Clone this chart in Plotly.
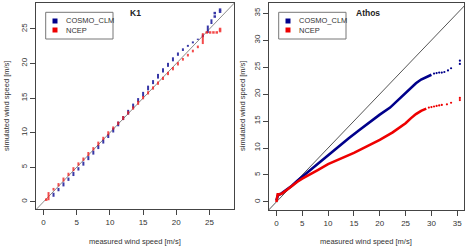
import plotly.graph_objects as go

W, H = 473, 246

# ---------------- K1 (left panel): QQ stacks at discrete measured speeds ----------------
k1_levels = [0.75, 1.5, 2.25, 3.0, 3.75, 4.5, 5.25, 6.0, 6.75, 7.5, 8.25, 9.0, 9.75, 10.5,
             11.25, 12.0, 12.75, 13.5, 14.25, 15.0, 15.75, 16.5, 17.25, 18.0, 18.75, 19.5,
             20.25, 21.0, 21.75, 22.5, 23.25, 24.0]
k1_ncep_top = [1.4, 2.0, 2.7, 3.5, 4.2, 5.0, 5.7, 6.4, 7.2, 7.9, 8.7, 9.4, 10.2, 10.9,
               11.6, 12.4, 13.1, 13.8, 14.6, 15.3, 16.0, 16.7, 17.4, 18.1, 18.8, 19.5,
               20.2, 20.8, 21.4, 22.0, 22.6, 24.4]
k1_ncep_start = 0.0
k1_ncep_tail_x = [0.4, 24.6, 25.1, 25.6, 26.1, 26.6, 26.6]
k1_ncep_tail_y = [0.3, 24.5, 24.5, 24.5, 24.5, 24.7, 25.0]

k1_cosmo_levels = [1.5, 2.25, 3.0, 3.75, 4.5, 5.25, 6.0, 6.75, 7.5, 8.25, 9.0, 9.75, 10.5,
                   11.25, 12.0, 12.75, 13.5, 14.25, 15.0, 15.75, 16.5, 17.25, 18.0, 18.75,
                   19.5, 20.25, 21.0, 21.75, 22.5, 23.25, 24.0, 24.75, 25.3]
k1_cosmo_top = [1.3, 2.0, 2.8, 3.5, 4.3, 5.0, 5.8, 6.6, 7.4, 8.2, 9.0, 9.8, 10.7,
                11.6, 12.4, 13.3, 14.2, 15.0, 15.9, 16.8, 17.6, 18.5, 19.3, 20.1,
                20.9, 21.6, 22.2, 22.7, 23.2, 23.6, 24.2, 25.5, 26.4]
k1_cosmo_start = 0.5
k1_cosmo_tail_x = [25.8, 25.8, 26.6, 26.6]
k1_cosmo_tail_y = [26.8, 27.3, 27.5, 27.8]

# ---------------- Athos (right panel): dense QQ curves ----------------
ath_ncep_x = [0.0, 0.1, 0.25, 0.5, 1.0, 2.0, 3.0, 4.0, 5.0, 6.0, 8.0, 10.0, 12.5, 15.0,
              17.5, 20.0, 22.5, 25.0, 26.0, 27.0, 28.0, 29.0]
ath_ncep_y = [0.0, 0.5, 1.4, 1.4, 1.5, 2.2, 3.0, 3.7, 4.3, 4.8, 5.9, 7.0, 8.0, 9.1,
              10.3, 11.5, 12.9, 14.6, 15.5, 16.3, 16.9, 17.3]
ath_ncep_pts_x = [29.5, 30.0, 30.5, 31.0, 31.5, 32.0, 33.0, 33.8, 35.5, 35.5]
ath_ncep_pts_y = [17.5, 17.6, 17.7, 17.8, 17.9, 18.0, 18.1, 18.4, 18.9, 19.3]

ath_cosmo_x = [0.0, 0.3, 1.0, 2.0, 3.0, 4.0, 5.0, 6.0, 8.0, 10.0, 12.0, 14.0, 16.0, 18.0,
               20.0, 22.0, 23.0, 24.0, 25.0, 26.0, 27.0, 28.0, 29.0, 30.0]
ath_cosmo_y = [0.3, 1.2, 1.6, 2.3, 3.0, 3.9, 4.7, 5.5, 7.1, 8.7, 10.3, 11.8, 13.3, 14.8,
               16.2, 17.5, 18.4, 19.4, 20.3, 21.2, 22.0, 22.7, 23.2, 23.6]
ath_cosmo_pts_x = [30.5, 31.0, 31.5, 32.0, 32.5, 33.2, 33.8, 35.5, 35.5]
ath_cosmo_pts_y = [23.8, 23.9, 24.0, 24.0, 24.1, 24.4, 24.8, 25.6, 26.2]

diag = [-5, 50]

series_names = ["COSMO_CLM", "NCEP"]
panel_titles = ["K1", "Athos"]
x_title = "measured wind speed [m/s]"
y_title = "simulated wind speed [m/s]"

BLUE = "#00008B"
RED = "#EE0000"
BLUE_A = "rgba(20,20,150,0.85)"
RED_A = "rgba(240,30,30,0.8)"


def stacks(levels, tops, start):
    xs, ys = [], []
    low = start
    for x, t in zip(levels, tops):
        xs += [x, x, None]
        ys += [low + 0.22, t, None]
        low = t
    return xs, ys


fig = go.Figure()

# left panel
fig.add_trace(go.Scatter(x=diag, y=diag, mode="lines", line=dict(color="#8a8a8a", width=1),
                         xaxis="x", yaxis="y", showlegend=False, hoverinfo="skip"))
bx, by = stacks(k1_cosmo_levels, k1_cosmo_top, k1_cosmo_start)
fig.add_trace(go.Scatter(x=bx, y=by, mode="lines", line=dict(color=BLUE_A, width=2),
                         xaxis="x", yaxis="y", showlegend=False))
fig.add_trace(go.Scatter(x=k1_cosmo_tail_x, y=k1_cosmo_tail_y, mode="markers",
                         marker=dict(color=BLUE_A, size=2.5, symbol="square"),
                         xaxis="x", yaxis="y", showlegend=False))
rx, ry = stacks(k1_levels, k1_ncep_top, k1_ncep_start)
fig.add_trace(go.Scatter(x=rx, y=ry, mode="lines", line=dict(color=RED_A, width=2),
                         xaxis="x", yaxis="y", showlegend=False))
fig.add_trace(go.Scatter(x=k1_ncep_tail_x, y=k1_ncep_tail_y, mode="markers",
                         marker=dict(color=RED_A, size=2.5, symbol="square"),
                         xaxis="x", yaxis="y", showlegend=False))

# right panel
fig.add_trace(go.Scatter(x=diag, y=diag, mode="lines", line=dict(color="#555555", width=1),
                         xaxis="x2", yaxis="y2", showlegend=False, hoverinfo="skip"))
fig.add_trace(go.Scatter(x=ath_cosmo_x, y=ath_cosmo_y, mode="lines",
                         line=dict(color=BLUE, width=2.6),
                         xaxis="x2", yaxis="y2", showlegend=False))
fig.add_trace(go.Scatter(x=ath_cosmo_pts_x, y=ath_cosmo_pts_y, mode="markers",
                         marker=dict(color=BLUE, size=2.2),
                         xaxis="x2", yaxis="y2", showlegend=False))
fig.add_trace(go.Scatter(x=ath_ncep_x, y=ath_ncep_y, mode="lines",
                         line=dict(color=RED, width=2.6),
                         xaxis="x2", yaxis="y2", showlegend=False))
fig.add_trace(go.Scatter(x=ath_ncep_pts_x, y=ath_ncep_pts_y, mode="markers",
                         marker=dict(color=RED, size=2.2),
                         xaxis="x2", yaxis="y2", showlegend=False))

FONT = "Liberation Sans, Arial, sans-serif"
TXT = "#333333"
axis_common = dict(showline=True, mirror=True, linecolor="#444444", linewidth=1,
                   ticks="outside", ticklen=5, tickcolor="#444444", tickwidth=1,
                   showgrid=False, zeroline=False,
                   tickfont=dict(family=FONT, size=8, color=TXT))


def px(v):
    return v / W


def py(v):
    return 1 - v / H


fig.update_layout(
    width=W, height=H, margin=dict(l=0, r=0, t=0, b=0),
    paper_bgcolor="white", plot_bgcolor="white",
    xaxis=dict(domain=[px(36), px(234)], range=[-1.14, 28.7], tickvals=[0, 5, 10, 15, 20, 25],
               anchor="y", **axis_common),
    yaxis=dict(domain=[py(209), py(3)], range=[-1.05, 28.76], tickvals=[0, 5, 10, 15, 20, 25],
               tickangle=-90, anchor="x", **axis_common),
    xaxis2=dict(domain=[px(269), px(464)], range=[-1.43, 36.3],
                tickvals=[0, 5, 10, 15, 20, 25, 30, 35], anchor="y2", **axis_common),
    yaxis2=dict(domain=[py(210), py(3)], range=[-1.5, 36.9],
                tickvals=[0, 5, 10, 15, 20, 25, 30, 35], tickangle=-90, anchor="x2", **axis_common),
    showlegend=False,
)

annotations = []
shapes = []
for cx, ty_left, legend_left, title in [(135, 6, 45.7, panel_titles[0]), (368, 242, 278.7, panel_titles[1])]:
    annotations.append(dict(x=px(cx), y=py(13), xref="paper", yref="paper", text="<b>%s</b>" % title,
                            showarrow=False, font=dict(family=FONT, size=8.5, color="#222"),
                            xanchor="center", yanchor="middle"))
    annotations.append(dict(x=px(ty_left), y=py(106), xref="paper", yref="paper", text=y_title,
                            textangle=-90, showarrow=False,
                            font=dict(family=FONT, size=7.5, color=TXT),
                            xanchor="center", yanchor="middle"))
    # legend box
    shapes.append(dict(type="rect", xref="paper", yref="paper",
                       x0=px(legend_left), x1=px(legend_left + 67.3), y0=py(39), y1=py(12.3),
                       line=dict(color="#777777", width=1), fillcolor="white"))
    for i, (name, col) in enumerate(zip(series_names, [BLUE, RED])):
        yc = 21 + 9 * i
        sx = legend_left + 9.3
        shapes.append(dict(type="rect", xref="paper", yref="paper",
                           x0=px(sx - 2.5), x1=px(sx + 2.5), y0=py(yc + 2.5), y1=py(yc - 2.5),
                           line=dict(width=0), fillcolor=col))
        annotations.append(dict(x=px(legend_left + 18), y=py(yc), xref="paper", yref="paper",
                                text=name, showarrow=False,
                                font=dict(family=FONT, size=7.5, color=TXT),
                                xanchor="left", yanchor="middle"))

for cx in [135, 366]:
    annotations.append(dict(x=px(cx), y=py(241), xref="paper", yref="paper", text=x_title,
                            showarrow=False, font=dict(family=FONT, size=7.5, color=TXT),
                            xanchor="center", yanchor="middle"))

fig.update_layout(annotations=annotations, shapes=shapes)
fig.write_html("out.html")
